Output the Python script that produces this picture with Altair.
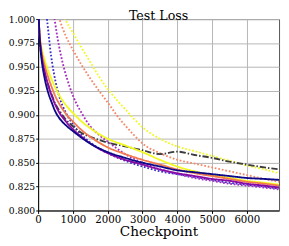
import altair as alt
import pandas as pd

# ---- data ----
TITLE = "Test Loss"
XTICKS = [0, 1000, 2000, 3000, 4000, 5000, 6000]
YTICKS = [0.8, 0.825, 0.85, 0.875, 0.9, 0.925, 0.95, 0.975, 1.0]

SOLID_X = [0, 30, 60, 100, 200, 300, 400, 500, 600, 800, 1000, 1250, 1500, 2000,
           2500, 3000, 3500, 4000, 4500, 5000, 5500, 6000, 6500, 6925]
navy = [1.03, 0.99, 0.972, 0.958, 0.936, 0.922, 0.912, 0.903, 0.897, 0.889, 0.883, 0.876,
        0.870, 0.861, 0.855, 0.850, 0.846, 0.842, 0.840, 0.838, 0.836, 0.834, 0.833, 0.832]
purple = [1.03, 0.99, 0.975, 0.962, 0.943, 0.930, 0.919, 0.910, 0.903, 0.893, 0.885, 0.877,
          0.870, 0.860, 0.853, 0.848, 0.843, 0.839, 0.836, 0.833, 0.831, 0.828, 0.826, 0.824]
salmon = [1.03, 0.99, 0.977, 0.966, 0.950, 0.938, 0.928, 0.919, 0.912, 0.901, 0.893, 0.884,
          0.877, 0.866, 0.859, 0.853, 0.848, 0.843, 0.839, 0.836, 0.833, 0.830, 0.828, 0.826]
yellow = [1.03, 0.99, 0.979, 0.970, 0.956, 0.945, 0.936, 0.928, 0.921, 0.910, 0.902, 0.893,
          0.886, 0.875, 0.868, 0.861, 0.853, 0.846, 0.841, 0.837, 0.834, 0.831, 0.829, 0.827]
gray = [1.03, 0.99, 0.973, 0.961, 0.942, 0.930, 0.920, 0.911, 0.905, 0.895, 0.888, 0.881,
        0.877, 0.871, 0.867, 0.863, 0.859, 0.8615, 0.858, 0.855, 0.851, 0.848, 0.845, 0.843]

blue_dot_x = [200, 260, 300, 350, 400, 500, 600, 800, 1000, 1250, 1500, 2000, 2500, 3000,
              3500, 4000, 4500, 5000, 5500, 6000, 6500, 6925]
blue_dot_y = [1.015, 0.998, 0.985, 0.968, 0.955, 0.935, 0.920, 0.902, 0.890, 0.879, 0.871,
              0.860, 0.852, 0.846, 0.841, 0.838, 0.835, 0.832, 0.829, 0.827, 0.825, 0.823]
purple_dot_x = [420, 472, 550, 650, 750, 900, 1000, 1250, 1500, 1750, 2000, 2500, 3000,
                3500, 4000, 4500, 5000, 5500, 6000, 6500, 6925]
purple_dot_y = [1.012, 1.0, 0.982, 0.963, 0.948, 0.930, 0.920, 0.902, 0.888, 0.879, 0.872,
                0.859, 0.850, 0.843, 0.838, 0.834, 0.831, 0.828, 0.826, 0.824, 0.822]
salmon_dot_x = [560, 611, 700, 800, 1000, 1250, 1500, 1750, 2000, 2250, 2500, 2750, 3000,
                3500, 4000, 4500, 5000, 5500, 6000, 6500, 6925]
salmon_dot_y = [1.006, 1.0, 0.991, 0.982, 0.968, 0.952, 0.938, 0.925, 0.913, 0.900, 0.889,
                0.879, 0.870, 0.860, 0.853, 0.849, 0.845, 0.841, 0.837, 0.833, 0.830]
yellow_dot_x = [720, 778, 1000, 1250, 1500, 1750, 2000, 2250, 2500, 2750, 3000, 3500, 4000,
                4500, 5000, 5500, 6000, 6500, 6925]
yellow_dot_y = [1.005, 1.0, 0.986, 0.970, 0.955, 0.940, 0.927, 0.916, 0.906, 0.896, 0.887,
                0.875, 0.867, 0.862, 0.857, 0.852, 0.847, 0.843, 0.839]

SERIES = ["yellow_dot", "salmon_dot", "purple_dot", "blue_dot", "gray",
          "yellow", "salmon", "purple", "navy"]
COLORS = ["#f0f921", "#f4896b", "#a52cc0", "#3a2fc8", "#3c3c3c",
          "#f0f921", "#f2784f", "#8b0aa5", "#0d0887"]
DOT = [1.8, 1.9]
DASHES = [DOT, DOT, DOT, DOT, [6.5, 2, 1.5, 2], [1, 0], [1, 0], [1, 0], [1, 0]]

rows = []
def add(name, xs, ys):
    for i, (a, b) in enumerate(zip(xs, ys)):
        rows.append({"s": name, "x": a, "y": b, "o": i})

add("yellow_dot", yellow_dot_x, yellow_dot_y)
add("salmon_dot", salmon_dot_x, salmon_dot_y)
add("purple_dot", purple_dot_x, purple_dot_y)
add("blue_dot", blue_dot_x, blue_dot_y)
add("gray", SOLID_X, gray)
add("yellow", SOLID_X, yellow)
add("salmon", SOLID_X, salmon)
add("purple", SOLID_X, purple)
add("navy", SOLID_X, navy)
df = pd.DataFrame(rows)

FONT = "DejaVu Serif"
W, H = 248, 197

lines = alt.Chart(df).mark_line(clip=True, strokeWidth=1.9, strokeCap="butt",
                                interpolate="monotone").encode(
    x=alt.X("x:Q", scale=alt.Scale(domain=[0, 6925], nice=False, zero=False),
            axis=alt.Axis(values=XTICKS, format="d",
                          title="Checkpoint", titleFontSize=14, titleFont=FONT,
                          titleFontWeight="normal", titleColor="black",
                          titleBaseline="alphabetic", titleY=26,
                          labelFontSize=10.5, labelFont=FONT, labelColor="black",
                          tickSize=3, labelPadding=1, labelFlush=False)),
    y=alt.Y("y:Q", scale=alt.Scale(domain=[0.8, 1.0], nice=False, zero=False),
            axis=alt.Axis(values=YTICKS, format=".3f", title=None,
                          labelFontSize=9.5, labelFont=FONT, labelColor="black",
                          tickSize=2.5, labelPadding=1, labelFlush=False)),
    color=alt.Color("s:N", scale=alt.Scale(domain=SERIES, range=COLORS), legend=None),
    strokeDash=alt.StrokeDash("s:N", scale=alt.Scale(domain=SERIES, range=DASHES), legend=None),
    order=alt.Order("o:Q"),
)

title = alt.Chart(pd.DataFrame({"t": [TITLE]})).mark_text(
    font=FONT, fontSize=13, color="black", align="center", baseline="alphabetic",
).encode(text="t:N", x=alt.value(W / 2), y=alt.value(1))

chart = alt.layer(lines, title).properties(
    width=W, height=H,
    padding={"left": 31, "top": 8, "right": 2, "bottom": 30},
    autosize=alt.AutoSizeParams(type="none"),
    background="white",
).configure_axis(
    domainColor="black", domainWidth=1, tickColor="black", tickWidth=1,
    gridColor="#b5b5b5", gridWidth=1,
).configure_view(
    stroke="#555555", strokeWidth=1,
)

chart.save("out.html", embed_options={"renderer": "svg", "actions": False})
